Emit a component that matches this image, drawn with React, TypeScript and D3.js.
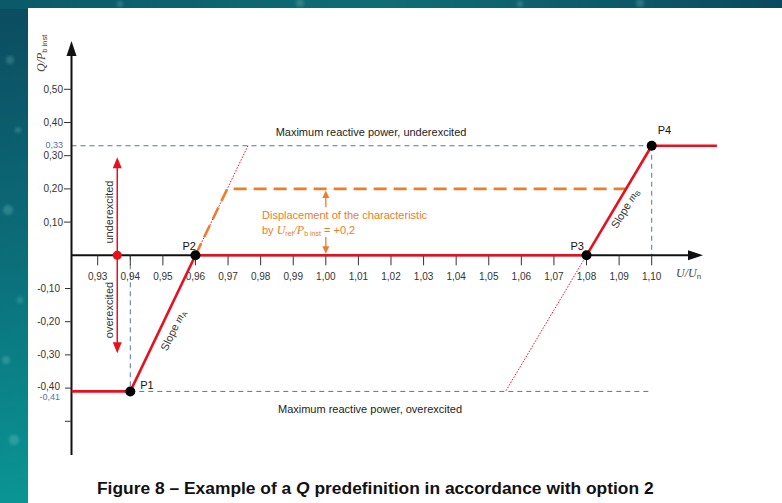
import React from "react";
import * as d3 from "d3";

const W = 782;
const H = 503;

// Voltage ticks (U/Un) and reactive power ticks (Q/Pb inst)
const uTicks = [0.93, 0.94, 0.95, 0.96, 0.97, 0.98, 0.99, 1.0, 1.01, 1.02, 1.03, 1.04, 1.05, 1.06, 1.07, 1.08, 1.09, 1.1];
const qTicks = [0.5, 0.4, 0.3, 0.2, 0.1, -0.1, -0.2, -0.3, -0.4, -0.5];
const qTickLabels = ["0,50", "0,40", "0,30", "0,20", "0,10", "-0,10", "-0,20", "-0,30", "-0,40", ""];
const qLimits = [0.33, -0.41];
const qLimitLabels = ["0,33", "-0,41"];

// Characteristic break points
const pointNames = ["P1", "P2", "P3", "P4"];
const pointU = [0.94, 0.96, 1.08, 1.1];
const pointQ = [-0.41, 0, 0, 0.33];
const uRange = [0.922, 1.12];
const displacement = 0.2;
const markerU = 0.936;
const markerQ = 0.295;

const FONT = "'Liberation Sans', Arial, sans-serif";
const SERIF = "'Liberation Serif', 'Times New Roman', serif";
const NARROW = "'Liberation Sans Narrow', 'Arial Narrow', 'Liberation Sans', Arial, sans-serif";
const RED = "#e8101e";
const ORANGE = "#ec7d2a";
const BLUE = "#5573a8";

export default function App() {
  const x = d3.scaleLinear().domain([0.93, 1.1]).range([97.7, 651.7]);
  const y = d3.scaleLinear().domain([0, 0.5]).range([255.3, 89.3]);

  const axisX = 71.5;
  const y0 = y(0);

  const pts = pointU.map((u, i) => ({ u, q: pointQ[i], name: pointNames[i] }));
  const [p1, p2, p3, p4] = pts;
  const slopeA = (p2.q - p1.q) / (p2.u - p1.u);
  const slopeB = (p4.q - p3.q) / (p4.u - p3.u);
  const uOnA = (q: number) => p2.u + (q - p2.q) / slopeA;
  const uOnB = (q: number) => p3.u + (q - p3.q) / slopeB;

  const line = d3
    .line<[number, number]>()
    .x((d) => x(d[0]))
    .y((d) => y(d[1]));

  const characteristic: [number, number][] = [
    [uRange[0], p1.q],
    ...pts.map((p) => [p.u, p.q] as [number, number]),
    [uRange[1], p4.q],
  ];
  const displaced: [number, number][] = [
    [p2.u, p2.q],
    [uOnA(displacement), displacement],
    [uOnB(displacement), displacement],
  ];
  const extA: [number, number][] = [
    [p2.u, p2.q],
    [uOnA(qLimits[0]), qLimits[0]],
  ];
  const extB: [number, number][] = [
    [p3.u, p3.q],
    [uOnB(qLimits[1]), qLimits[1]],
  ];

  const labelOffsets: Record<string, [number, number]> = {
    P1: [10, -2],
    P2: [-13, -5],
    P3: [-16, -5],
    P4: [6, -12],
  };

  // slope labels placed along each sloped segment
  const angA = (Math.atan2(y(p2.q) - y(p1.q), x(p2.u) - x(p1.u)) * 180) / Math.PI;
  const angB = (Math.atan2(y(p4.q) - y(p3.q), x(p4.u) - x(p3.u)) * 180) / Math.PI;
  const qA = -0.21;
  const qB = 0.155;

  const xm = x(markerU);
  const xd = x(1.0);

  return (
    <svg width={W} height={H} style={{ position: "absolute", left: 0, top: 0 }}>
      <defs>
        <linearGradient id="bg" x1="0" y1="0" x2="0.25" y2="1">
          <stop offset="0" stopColor="#0b4b60" />
          <stop offset="0.5" stopColor="#0b6f7a" />
          <stop offset="1" stopColor="#0a9a98" />
        </linearGradient>
        <linearGradient id="topbar" x1="0" y1="0" x2="1" y2="0">
          <stop offset="0" stopColor="#0a5a6a" />
          <stop offset="0.5" stopColor="#0f6d74" />
          <stop offset="1" stopColor="#0a4a60" />
        </linearGradient>
        <filter id="soft">
          <feGaussianBlur stdDeviation="1.5" />
        </filter>
      </defs>
      <rect x={0} y={0} width={W} height={H} fill="url(#bg)" />
      <rect x={0} y={0} width={W} height={9} fill="url(#topbar)" />
      <g filter="url(#soft)" fill="#bff" opacity={0.18}>
        <circle cx={10} cy={60} r={4} />
        <circle cx={18} cy={130} r={3} />
        <circle cx={8} cy={210} r={5} />
        <circle cx={20} cy={300} r={3} />
        <circle cx={6} cy={360} r={4} />
        <circle cx={14} cy={440} r={5} />
        <circle cx={120} cy={4} r={3} />
        <circle cx={300} cy={3} r={4} />
        <circle cx={520} cy={4} r={3} />
        <circle cx={640} cy={3} r={4} />
      </g>
      <rect x={28} y={8} width={W - 28} height={H - 8} fill="#ffffff" />

      {/* limit lines */}
      <g stroke={BLUE} strokeWidth={1} strokeDasharray="5,4" fill="none">
        <line x1={axisX} x2={x(p4.u)} y1={y(qLimits[0])} y2={y(qLimits[0])} />
        <line x1={x(p4.u)} x2={x(p4.u)} y1={y(p4.q)} y2={y0} />
        <line x1={x(p1.u)} x2={x(p1.u)} y1={y0} y2={y(p1.q)} />
        <line x1={x(p1.u)} x2={x(1.1) - 2} y1={y(qLimits[1])} y2={y(qLimits[1])} />
      </g>

      {/* slope extensions */}
      <g stroke={RED} strokeWidth={1} strokeDasharray="1.5,1.5" fill="none">
        <path d={line(extA) ?? ""} />
        <path d={line(extB) ?? ""} />
      </g>

      {/* displaced characteristic */}
      <path d={line(displaced) ?? ""} fill="none" stroke={ORANGE} strokeWidth={2.6} strokeDasharray="13,7" />

      {/* displacement arrows */}
      <g stroke={ORANGE} strokeWidth={1.3} fill={ORANGE}>
        <line x1={xd} x2={xd} y1={y(0.145)} y2={y(displacement) + 6} />
        <polygon points={`${xd},${y(displacement) + 1.5} ${xd - 3.5},${y(displacement) + 9} ${xd + 3.5},${y(displacement) + 9}`} stroke="none" />
        <line x1={xd} x2={xd} y1={y(0.055)} y2={y0 - 6} />
        <polygon points={`${xd},${y0 - 1.5} ${xd - 3.5},${y0 - 9} ${xd + 3.5},${y0 - 9}`} stroke="none" />
      </g>
      <text x={262} y={219} fontFamily={FONT} fontSize={11} fill={ORANGE}>
        Displacement of the characteristic
      </text>
      <text x={262} y={234} fontFamily={FONT} fontSize={11} fill={ORANGE}>
        by{" "}
        <tspan fontFamily={SERIF} fontStyle="italic" fontSize={12}>U</tspan>
        <tspan fontSize={7} dy={2}>ref</tspan>
        <tspan fontFamily={SERIF} fontStyle="italic" fontSize={12} dy={-2}>/P</tspan>
        <tspan fontSize={7} dy={2}>b inst</tspan>
        <tspan dy={-2}> = +0,2</tspan>
      </text>

      {/* axes */}
      <g stroke="#111" strokeWidth={2}>
        <line x1={axisX} x2={axisX} y1={455} y2={52} />
        <line x1={axisX} x2={692} y1={y0} y2={y0} />
      </g>
      <polygon points={`${axisX},41 ${axisX - 5},56 ${axisX + 5},56`} fill="#111" />
      <polygon points={`703,${y0} 688,${y0 - 5} 688,${y0 + 5}`} fill="#111" />

      {/* q ticks */}
      <g fontFamily={FONT} fontSize={10} fill="#333">
        {qTicks.map((q, i) => (
          <g key={q}>
            <line x1={q > 0 ? 64 : 65} x2={axisX} y1={y(q)} y2={y(q)} stroke="#333" strokeWidth={1} />
            <text x={q > 0 ? 63 : 60} y={y(q) + (q === -0.4 ? -1.5 : 0)} dy="0.35em" textAnchor="end">
              {qTickLabels[i]}
            </text>
          </g>
        ))}
        {qLimits.map((q, i) => (
          <text key={q} x={q > 0 ? 63 : 60} y={y(q) + (q > 0 ? -1 : 5)} dy="0.35em" textAnchor="end" fontSize={9} fill={BLUE}>
            {qLimitLabels[i]}
          </text>
        ))}
      </g>

      {/* u ticks */}
      <g fontFamily={FONT} fontSize={10} fill="#333">
        {uTicks.map((u) => (
          <g key={u}>
            <line x1={x(u)} x2={x(u)} y1={y0} y2={y0 + 10} stroke="#333" strokeWidth={1} />
            <text x={x(u)} y={y0 + 25} textAnchor="middle">
              {u.toFixed(2).replace(".", ",")}
            </text>
          </g>
        ))}
      </g>

      {/* axis titles */}
      <text x={676} y={277} fontFamily={SERIF} fontStyle="italic" fontSize={12} fill="#444">
        U/U
        <tspan fontFamily={FONT} fontStyle="normal" fontSize={8} dy={2}>n</tspan>
      </text>
      <text transform="translate(45,72) rotate(-90)" fontFamily={SERIF} fontStyle="italic" fontSize={12} fill="#444">
        Q/P
        <tspan fontFamily={FONT} fontStyle="normal" fontSize={7.5} dy={2}>b inst</tspan>
      </text>

      {/* under/over-excited marker */}
      <g stroke={RED} strokeWidth={1.5} fill={RED}>
        <line x1={xm} x2={xm} y1={y(markerQ) + 8} y2={y(-markerQ) - 8} />
        <polygon points={`${xm},${y(markerQ)} ${xm - 4.5},${y(markerQ) + 11} ${xm + 4.5},${y(markerQ) + 11}`} stroke="none" />
        <polygon points={`${xm},${y(-markerQ)} ${xm - 4.5},${y(-markerQ) - 11} ${xm + 4.5},${y(-markerQ) - 11}`} stroke="none" />
        <circle cx={xm} cy={y0} r={4.5} stroke="none" />
      </g>
      <text transform={`translate(${xm - 4.5},212) rotate(-90)`} textAnchor="middle" fontFamily={FONT} fontSize={11} fill="#333">
        underexcited
      </text>
      <text transform={`translate(${xm - 4.5},310) rotate(-90)`} textAnchor="middle" fontFamily={FONT} fontSize={11} fill="#333">
        overexcited
      </text>

      {/* characteristic */}
      <path d={line(characteristic) ?? ""} fill="none" stroke={RED} strokeWidth={2.6} strokeLinejoin="round" />
      {pts.map((p) => (
        <g key={p.name}>
          <circle cx={x(p.u)} cy={y(p.q)} r={5} fill="#000" />
          <text
            x={x(p.u) + labelOffsets[p.name][0]}
            y={y(p.q) + labelOffsets[p.name][1]}
            fontFamily={FONT}
            fontSize={11}
            fill="#111"
          >
            {p.name}
          </text>
        </g>
      ))}

      {/* slope labels */}
      <text
        transform={`translate(${x(uOnA(qA))},${y(qA)}) rotate(${angA})`}
        dy={16}
        textAnchor="middle"
        fontFamily={FONT}
        fontSize={11}
        fill="#333"
      >
        Slope{" "}
        <tspan fontFamily={SERIF} fontStyle="italic">m</tspan>
        <tspan fontSize={7} dy={2}>A</tspan>
      </text>
      <text
        transform={`translate(${x(uOnB(qB))},${y(qB)}) rotate(${angB})`}
        dy={13}
        textAnchor="middle"
        fontFamily={FONT}
        fontSize={11}
        fill="#333"
      >
        Slope{" "}
        <tspan fontFamily={SERIF} fontStyle="italic">m</tspan>
        <tspan fontSize={7} dy={2}>B</tspan>
      </text>

      {/* limit captions */}
      <text x={371} y={y(qLimits[0]) - 10} textAnchor="middle" fontFamily={FONT} fontSize={11} fill="#222">
        Maximum reactive power, underexcited
      </text>
      <text x={370} y={y(qLimits[1]) + 22} textAnchor="middle" fontFamily={FONT} fontSize={11} fill="#222">
        Maximum reactive power, overexcited
      </text>

      {/* figure caption */}
      <text x={97} y={494} fontFamily={NARROW} fontWeight="bold" fontSize={17.4} fill="#111">
        Figure 8 – Example of a <tspan fontStyle="italic">Q</tspan> predefinition in accordance with option 2
      </text>
    </svg>
  );
}
